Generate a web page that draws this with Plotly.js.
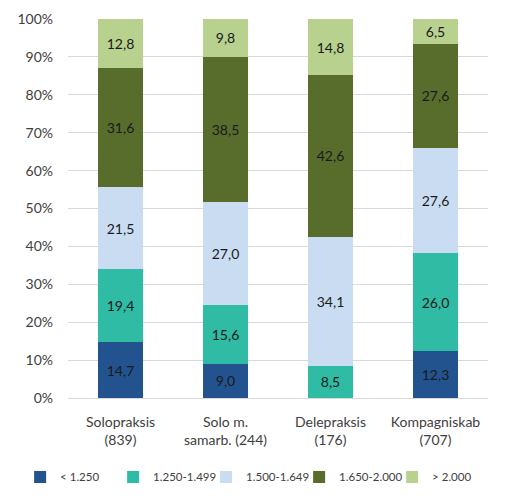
<!DOCTYPE html>
<html>
<head>
<meta charset="utf-8">
<script src="https://cdn.plot.ly/plotly-3.0.1.min.js"></script>
<style>html,body{margin:0;padding:0;background:#fff;}#chart{width:506px;height:503px;}</style>
</head>
<body>
<div id="chart"></div>
<script>
const categories = ["Solopraksis<br>(839)", "Solo m.<br>samarb. (244)", "Delepraksis<br>(176)", "Kompagniskab<br>(707)"];
const seriesNames = ["< 1.250", "1.250-1.499", "1.500-1.649", "1.650-2.000", "> 2.000"];
const s1 = [14.7, 9.0, 0, 12.3];
const s2 = [19.4, 15.6, 8.5, 26.0];
const s3 = [21.5, 27.0, 34.1, 27.6];
const s4 = [31.6, 38.5, 42.6, 27.6];
const s5 = [12.8, 9.8, 14.8, 6.5];
const colors = ["#23538F", "#2FBBA4", "#CADCF2", "#586D2C", "#B8D18F"];
const yTickVals = [0, 10, 20, 30, 40, 50, 60, 70, 80, 90, 100];
const yTickText = ["0%", "10%", "20%", "30%", "40%", "50%", "60%", "70%", "80%", "90%", "100%"];

const series = [s1, s2, s3, s4, s5];
const fmt = v => v ? v.toFixed(1).replace('.', ',') : '';
const traces = series.map((vals, i) => ({
  type: 'bar',
  name: seriesNames[i],
  x: categories,
  y: vals,
  text: vals.map(fmt),
  textposition: 'inside',
  insidetextanchor: 'middle',
  textangle: 0,
  constraintext: 'none',
  textfont: {color: '#1a1a1a', size: 14, family: 'Lato, sans-serif'},
  marker: {color: colors[i], line: {width: 0}},
  hoverinfo: 'none'
}));

const layout = {
  width: 506, height: 503,
  margin: {l: 68, r: 18, t: 19, b: 103},
  barmode: 'stack',
  bargap: 0.58,
  paper_bgcolor: '#fff', plot_bgcolor: '#fff',
  font: {family: 'Lato, sans-serif', size: 14, color: '#404040'},
  showlegend: true,
  legend: {orientation: 'h', traceorder: 'normal', x: -0.114, xanchor: 'left', xref: 'paper',
           y: -0.17, yanchor: 'top', yref: 'paper',
           font: {size: 11.5, color: '#404040'}, itemwidth: 30, tracegroupgap: 0,
           entrywidth: 48, entrywidthmode: 'pixels'},
  xaxis: {showgrid: false, showline: true, linecolor: '#d9d9d9', linewidth: 1,
          ticks: '', ticklabelstandoff: 11, tickfont: {size: 14, color: '#404040'}, fixedrange: true},
  yaxis: {range: [0, 100], tickvals: yTickVals, ticktext: yTickText,
          showgrid: true, gridcolor: '#d9d9d9', gridwidth: 1, zeroline: false,
          showline: false, ticks: '', ticklabelstandoff: 14,
          tickfont: {size: 14, color: '#404040'}, fixedrange: true}
};

Plotly.newPlot('chart', traces, layout, {staticPlot: true, displayModeBar: false});
</script>
</body>
</html>
